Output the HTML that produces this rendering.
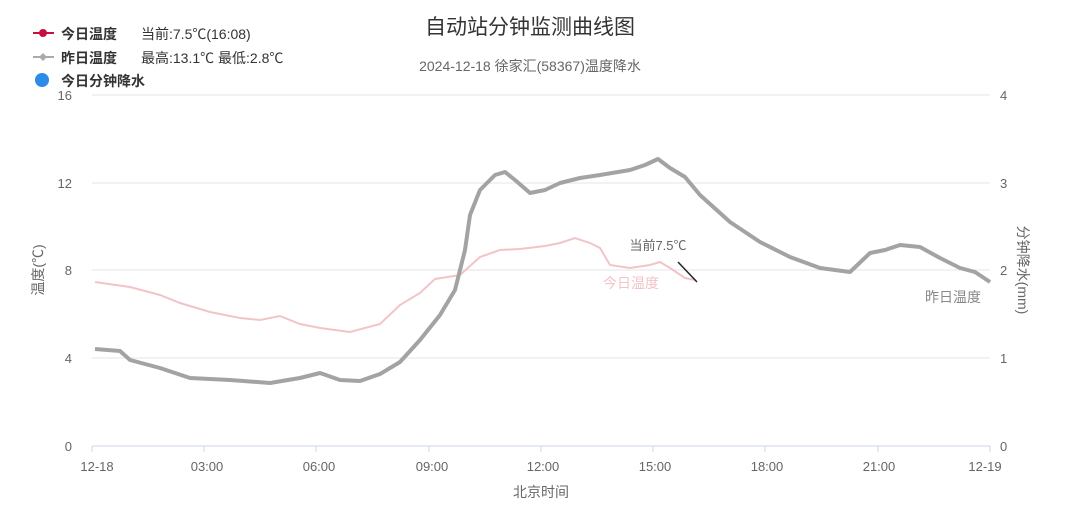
<!DOCTYPE html>
<html><head><meta charset="utf-8"><style>
body{margin:0;background:#fff;}
svg{display:block;font-family:"Liberation Sans","Noto Sans CJK SC",sans-serif;}
</style></head><body>
<svg width="1080" height="523" viewBox="0 0 1080 523">
<rect width="1080" height="523" fill="#fff"/>
<text x="530" y="34" font-size="21" fill="#333" text-anchor="middle">自动站分钟监测曲线图</text>
<text x="530" y="71" font-size="14" fill="#666" text-anchor="middle">2024-12-18 徐家汇(58367)温度降水</text>
<!-- legend -->
<line x1="33" y1="33" x2="54" y2="33" stroke="#c8103f" stroke-width="2"/>
<circle cx="43" cy="33" r="4" fill="#c8103f"/>
<text x="61" y="39" font-size="14" font-weight="bold" fill="#333">今日温度</text>
<text x="141" y="39" font-size="14" fill="#333">当前:7.5℃(16:08)</text>
<line x1="33" y1="57" x2="54" y2="57" stroke="#aaa" stroke-width="2"/>
<path d="M43 53 L47 57 L43 61 L39 57Z" fill="#aaa"/>
<text x="61" y="63" font-size="14" font-weight="bold" fill="#333">昨日温度</text>
<text x="141" y="63" font-size="14" fill="#333">最高:13.1℃ 最低:2.8℃</text>
<circle cx="42" cy="80" r="7" fill="#2b8be6"/>
<text x="61" y="86" font-size="14" font-weight="bold" fill="#333">今日分钟降水</text>
<!-- grid -->
<g stroke="#e6e6e6" stroke-width="1">
<line x1="92" y1="95" x2="990" y2="95"/>
<line x1="92" y1="183" x2="990" y2="183"/>
<line x1="92" y1="270" x2="990" y2="270"/>
<line x1="92" y1="358" x2="990" y2="358"/>
</g>
<line x1="92" y1="446" x2="990" y2="446" stroke="#ccd6eb"/>
<g stroke="#ccd6eb">
<line x1="92" y1="446" x2="92" y2="452"/><line x1="204" y1="446" x2="204" y2="452"/><line x1="316" y1="446" x2="316" y2="452"/><line x1="429" y1="446" x2="429" y2="452"/><line x1="541" y1="446" x2="541" y2="452"/><line x1="653" y1="446" x2="653" y2="452"/><line x1="765" y1="446" x2="765" y2="452"/><line x1="878" y1="446" x2="878" y2="452"/><line x1="990" y1="446" x2="990" y2="452"/>
</g>
<g font-size="13" fill="#666" text-anchor="end">
<text x="72" y="100">16</text><text x="72" y="188">12</text><text x="72" y="275">8</text><text x="72" y="363">4</text><text x="72" y="451">0</text>
</g>
<g font-size="13" fill="#666">
<text x="1000" y="100">4</text><text x="1000" y="188">3</text><text x="1000" y="275">2</text><text x="1000" y="363">1</text><text x="1000" y="451">0</text>
</g>
<g font-size="13" fill="#666" text-anchor="middle">
<text x="97" y="471">12-18</text><text x="207" y="471">03:00</text><text x="319" y="471">06:00</text><text x="432" y="471">09:00</text><text x="543" y="471">12:00</text><text x="655" y="471">15:00</text><text x="767" y="471">18:00</text><text x="879" y="471">21:00</text><text x="985" y="471">12-19</text>
</g>
<text x="541" y="497" font-size="14" fill="#666" text-anchor="middle">北京时间</text>
<text transform="translate(43,270) rotate(-90)" font-size="14" fill="#666" text-anchor="middle">温度(℃)</text>
<text transform="translate(1018,270) rotate(90)" font-size="14" fill="#666" text-anchor="middle">分钟降水(mm)</text>
<!-- today -->
<polyline fill="none" stroke="#f2c4c8" stroke-width="2" points="95,282 130,287 160,295 180,303 210,312 240,318 260,320 280,316 300,324 320,328 350,332 380,324 400,305 420,293 435,279 460,275 480,257 500,250 520,249 545,246 560,243 575,238 590,243 600,248 610,265 630,268 650,265 660,262 670,268 685,278 695,280"/>
<!-- yesterday -->
<polyline fill="none" stroke="#a3a3a3" stroke-width="4" stroke-linejoin="round" points="95,349 120,351 130,360 160,368 190,378 230,380 270,383 300,378 320,373 340,380 360,381 380,374 400,362 420,340 440,315 455,290 465,250 470,215 480,190 495,175 505,172 515,180 530,193 545,190 560,183 580,178 600,175 630,170 645,165 658,159 670,168 685,177 700,195 730,222 760,242 790,257 820,268 850,272 870,253 885,250 900,245 920,247 940,258 960,268 975,272 990,282"/>
<line x1="678" y1="262" x2="697" y2="282" stroke="#222" stroke-width="1.5"/>
<text x="658" y="250" font-size="13" fill="#666" text-anchor="middle">当前7.5℃</text>
<text x="631" y="288" font-size="14" fill="#f2c4c8" text-anchor="middle">今日温度</text>
<text x="953" y="302" font-size="14" fill="#888" text-anchor="middle">昨日温度</text>
</svg>
</body></html>
